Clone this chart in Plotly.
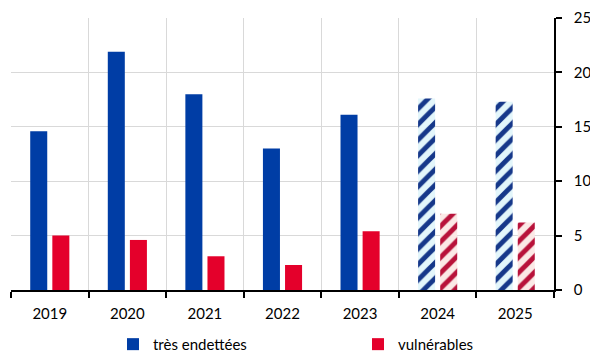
import plotly.graph_objects as go

years = ["2019", "2020", "2021", "2022", "2023", "2024", "2025"]
tres_endettees = [14.6, 21.9, 18.0, 13.0, 16.1, 17.6, 17.3]
vulnerables = [5.0, 4.6, 3.1, 2.3, 5.4, 7.0, 6.2]
# 2024 and 2025 are projections, drawn hatched
projected = [False, False, False, False, False, True, True]

BLUE = "#003da5"
RED = "#e4002b"
FONT = "Lato"


def pattern(fg, bg):
    return dict(
        shape=["/" if p else "" for p in projected],
        fgcolor=fg,
        bgcolor=[bg if p else fg for p in projected],
        size=11,
        solidity=0.45,
        fillmode="replace",
    )


fig = go.Figure()
fig.add_trace(go.Bar(
    x=years, y=tres_endettees, name="très endettées",
    marker=dict(color=BLUE, line=dict(width=0),
                pattern=pattern("#16388a", "#e3f6fb")),
))
fig.add_trace(go.Bar(
    x=years, y=vulnerables, name="vulnérables",
    marker=dict(color=RED, line=dict(width=0),
                pattern=pattern("#b8123a", "#fbe9e6")),
))

fig.update_layout(
    width=590, height=352,
    margin=dict(l=11, r=36, t=18, b=62, autoexpand=False),
    paper_bgcolor="white", plot_bgcolor="white",
    barmode="group", bargap=0.43, bargroupgap=0.23,
    font=dict(family=FONT, size=15, color="#000000"),
    showlegend=True,
    legend=dict(
        orientation="h", xref="container", yref="paper",
        x=0.1915, y=-0.2, xanchor="left", yanchor="middle",
        entrywidth=200, entrywidthmode="pixels",
        font=dict(family=FONT, size=15, color="#000000"),
        itemclick=False, itemdoubleclick=False,
    ),
)
fig.update_xaxes(
    type="category", range=[-0.5, 6.5],
    tickson="boundaries", ticks="outside", ticklen=6, tickwidth=1.5, tickcolor="black",
    showline=True, linecolor="black", linewidth=1.5,
    showgrid=True, gridcolor="#d9d9d9", gridwidth=1,
    ticklabelstandoff=9,
    tickfont=dict(family=FONT, size=15),
)
fig.update_yaxes(
    side="right", range=[0, 25], dtick=5, tick0=0,
    ticks="outside", ticklen=6, tickwidth=1.5, tickcolor="black",
    showline=True, linecolor="black", linewidth=1.5,
    showgrid=True, gridcolor="#d9d9d9", gridwidth=1,
    zeroline=False, ticklabelstandoff=9,
    tickfont=dict(family=FONT, size=15),
)

fig.write_html("out.html")
